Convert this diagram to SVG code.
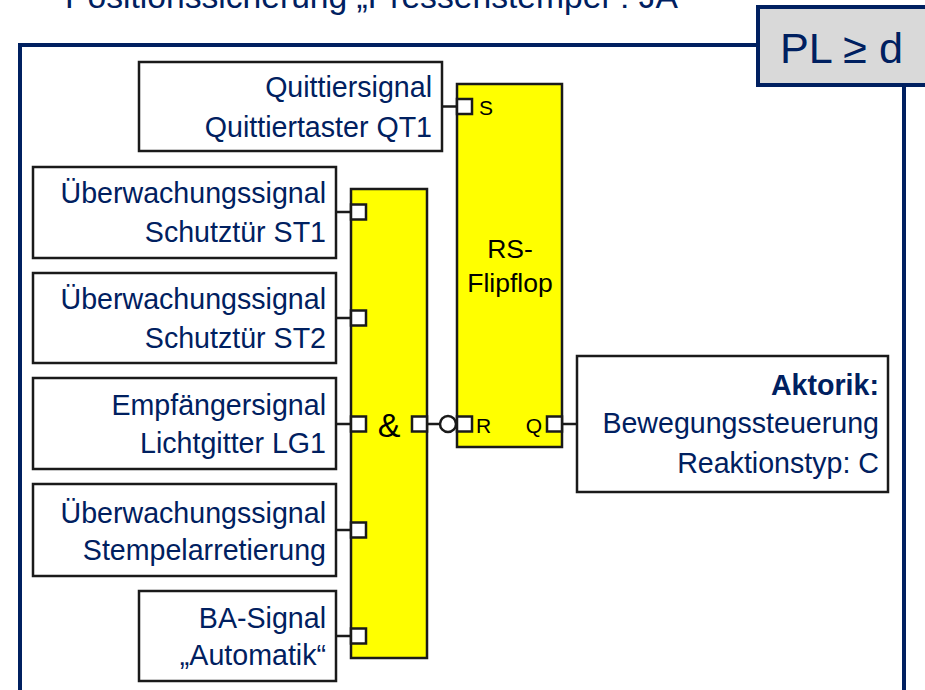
<svg xmlns="http://www.w3.org/2000/svg" width="925" height="690" viewBox="0 0 925 690">
<style>
.bx{fill:#fff;stroke:#1a1a1a;stroke-width:2.5}
.gate{fill:#ffff00;stroke:#1a1a1a;stroke-width:2.5}
.port{fill:#fff;stroke:#1a1a1a;stroke-width:2.5}
.wire{stroke:#1a1a1a;stroke-width:2.5;fill:none}
.t{font-family:"Liberation Sans",Arial,sans-serif;font-size:28.6px;fill:#002060;text-anchor:end}
.g{font-family:"Liberation Sans",Arial,sans-serif;fill:#000}
.frame{fill:none;stroke:#002060;stroke-width:4}
</style>
<rect width="925" height="690" fill="#fff"/>
<text x="65" y="8" font-family="Liberation Sans, Arial, sans-serif" font-size="33" fill="#002060" textLength="613" lengthAdjust="spacingAndGlyphs">Positionssicherung „Pressenstempel“: JA</text>
<g id="frame">
<path class="frame" d="M20,692 V45 H758 M904,85 V692"/>
<rect x="758" y="7" width="180" height="78" fill="#d9d9d9" stroke="#002060" stroke-width="4"/>
<text x="780" y="63" font-family="Liberation Sans, Arial, sans-serif" font-size="43" fill="#002060" textLength="123" lengthAdjust="spacingAndGlyphs">PL ≥ d</text>
</g>
<g id="connectors">
<line class="wire" x1="442" y1="106.5" x2="457" y2="106.5"/>
<line class="wire" x1="336" y1="212" x2="351" y2="212"/>
<line class="wire" x1="336" y1="318" x2="351" y2="318"/>
<line class="wire" x1="336" y1="424" x2="351" y2="424"/>
<line class="wire" x1="336" y1="530" x2="351" y2="530"/>
<line class="wire" x1="336" y1="636" x2="351" y2="636"/>
<line class="wire" x1="427" y1="424" x2="440" y2="424"/>
<line class="wire" x1="562" y1="424" x2="577" y2="424"/>
</g>
<g id="quittier">
<rect class="bx" x="139" y="62" width="303" height="89"/>
<text class="t" x="432" y="97">Quittiersignal</text>
<text class="t" x="432" y="137">Quittiertaster QT1</text>
</g>
<g id="st1">
<rect class="bx" x="33" y="167" width="303" height="91"/>
<text class="t" x="326" y="203">Überwachungssignal</text>
<text class="t" x="326" y="242">Schutztür ST1</text>
</g>
<g id="st2">
<rect class="bx" x="33" y="273" width="303" height="90"/>
<text class="t" x="326" y="309">Überwachungssignal</text>
<text class="t" x="326" y="348">Schutztür ST2</text>
</g>
<g id="lg1">
<rect class="bx" x="33" y="378" width="303" height="91"/>
<text class="t" x="326" y="415">Empfängersignal</text>
<text class="t" x="326" y="453">Lichtgitter LG1</text>
</g>
<g id="stempel">
<rect class="bx" x="33" y="484" width="303" height="92"/>
<text class="t" x="326" y="523">Überwachungssignal</text>
<text class="t" x="326" y="560">Stempelarretierung</text>
</g>
<g id="ba">
<rect class="bx" x="139" y="591" width="197" height="90"/>
<text class="t" x="326" y="628">BA-Signal</text>
<text class="t" x="326" y="665">„Automatik“</text>
</g>
<g id="and">
<rect class="gate" x="351" y="189" width="76" height="469"/>
<rect class="port" x="351" y="204.5" width="15" height="15"/>
<rect class="port" x="351" y="310.5" width="15" height="15"/>
<rect class="port" x="351" y="416.5" width="15" height="15"/>
<rect class="port" x="351" y="522.5" width="15" height="15"/>
<rect class="port" x="351" y="628.5" width="15" height="15"/>
<rect class="port" x="412" y="416.5" width="15" height="15"/>
<text class="g" x="389" y="437" font-size="34" text-anchor="middle">&amp;</text>
</g>
<g id="rsff">
<rect class="gate" x="457" y="84" width="105" height="363"/>
<rect class="port" x="457" y="99" width="15" height="15"/>
<rect class="port" x="457" y="416.5" width="15" height="15"/>
<rect class="port" x="547" y="416.5" width="15" height="15"/>
<circle cx="448" cy="424" r="8" fill="#fff" stroke="#1a1a1a" stroke-width="2.5"/>
<text class="g" x="479" y="115" font-size="21">S</text>
<text class="g" x="476" y="433" font-size="21">R</text>
<text class="g" x="542" y="433" font-size="21" text-anchor="end">Q</text>
<text class="g" x="510" y="258" font-size="26.5" text-anchor="middle">RS-</text>
<text class="g" x="510" y="292" font-size="26.5" text-anchor="middle">Flipflop</text>
</g>
<g id="aktorik">
<rect class="bx" x="577" y="356" width="311" height="136"/>
<text class="t" x="879" y="395" font-weight="bold">Aktorik:</text>
<text class="t" x="879" y="433">Bewegungssteuerung</text>
<text class="t" x="879" y="473">Reaktionstyp: C</text>
</g>
</svg>
